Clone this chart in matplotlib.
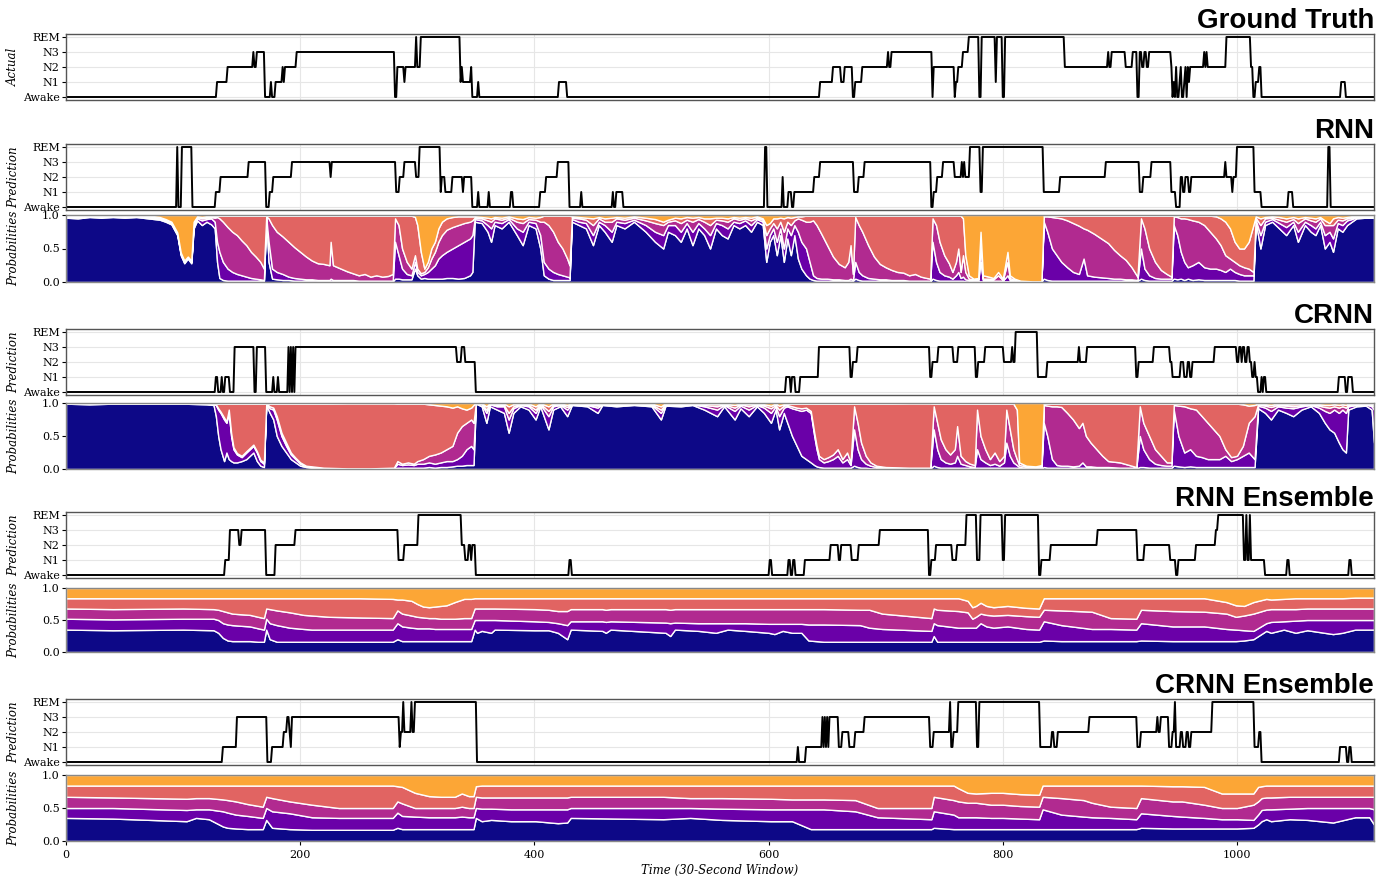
import numpy as np
import matplotlib
matplotlib.use("Agg")
import matplotlib.pyplot as plt

plt.rcParams["font.family"] = "DejaVu Serif"
plt.rcParams["font.size"] = 8

n_epochs = 1118
stage_names = ["Awake", "N1", "N2", "N3", "REM"]
class_colors = ["#0d0887", "#6a00a8", "#b12a90", "#e16462", "#fca636"]

# hypnograms as (first epoch, stage) change points
gt_changes = [(0, 0), (129, 1), (138, 2), (160, 3), (161, 2), (163, 3), (170, 0), (175, 1), (176, 0),
              (179, 1), (185, 2), (186, 1), (187, 2), (197, 3), (281, 0), (283, 2), (289, 1), (290, 2),
              (299, 4), (300, 2), (303, 4), (337, 1), (338, 2), (339, 1), (346, 2), (347, 0), (352, 1),
              (353, 0), (421, 1), (428, 0), (644, 1), (655, 2), (662, 1), (665, 2), (672, 0), (674, 1),
              (680, 2), (702, 3), (703, 2), (705, 3), (740, 0), (741, 2), (759, 0), (760, 1), (762, 2),
              (766, 3), (771, 4), (780, 0), (782, 4), (794, 1), (795, 4), (800, 0), (802, 4), (853, 2),
              (890, 3), (891, 2), (893, 3), (905, 2), (911, 3), (915, 0), (917, 3), (919, 2), (921, 3),
              (923, 2), (925, 3), (944, 2), (945, 0), (946, 1), (947, 0), (948, 2), (949, 0), (951, 1),
              (952, 2), (953, 0), (955, 1), (956, 2), (957, 0), (958, 2), (959, 1), (960, 2), (972, 3),
              (973, 2), (974, 3), (975, 2), (991, 4), (1012, 2), (1014, 0), (1016, 1), (1019, 2),
              (1021, 0), (1089, 1), (1093, 0)]

rnn_changes = [(0, 0), (95, 4), (96, 0), (99, 4), (108, 0), (128, 1), (132, 2), (156, 3), (171, 0),
               (174, 1), (177, 2), (193, 3), (226, 2), (227, 3), (282, 1), (285, 2), (289, 3), (299, 2),
               (302, 4), (320, 1), (321, 2), (324, 1), (330, 2), (339, 1), (340, 2), (347, 0), (352, 1),
               (353, 0), (361, 1), (362, 0), (380, 1), (382, 0), (405, 1), (410, 2), (420, 3), (430, 0),
               (440, 1), (441, 0), (467, 1), (468, 0), (470, 1), (476, 0), (597, 4), (599, 0), (612, 2),
               (613, 0), (617, 1), (620, 0), (622, 1), (639, 2), (644, 3), (673, 1), (677, 2), (682, 3),
               (739, 0), (741, 1), (744, 2), (749, 3), (759, 2), (765, 3), (766, 2), (767, 3), (768, 2),
               (772, 4), (781, 1), (783, 4), (835, 1), (849, 2), (888, 3), (917, 1), (920, 2), (927, 3),
               (944, 1), (948, 0), (952, 2), (954, 1), (956, 2), (959, 1), (961, 2), (990, 3), (991, 2),
               (996, 1), (997, 2), (1000, 4), (1015, 1), (1021, 0), (1044, 1), (1048, 0), (1078, 4),
               (1080, 0)]

crnn_changes = [(0, 0), (128, 1), (130, 0), (133, 1), (134, 0), (136, 1), (140, 0), (144, 3), (161, 0),
                (163, 3), (171, 0), (177, 1), (178, 0), (181, 1), (182, 0), (190, 3), (191, 0), (192, 3),
                (193, 0), (194, 3), (195, 0), (196, 3), (334, 2), (338, 3), (341, 2), (350, 0), (615, 1),
                (619, 0), (620, 1), (623, 0), (627, 1), (643, 3), (670, 1), (672, 2), (676, 3), (738, 1),
                (740, 2), (745, 3), (758, 2), (762, 3), (777, 1), (779, 2), (785, 3), (801, 2), (808, 3),
                (809, 2), (811, 4), (830, 1), (838, 2), (865, 3), (866, 2), (872, 3), (914, 1), (916, 2),
                (929, 3), (943, 2), (945, 1), (952, 2), (955, 1), (958, 2), (960, 1), (962, 2), (981, 3),
                (1000, 2), (1002, 3), (1004, 2), (1005, 3), (1007, 2), (1009, 3), (1011, 2), (1013, 1),
                (1015, 2), (1016, 1), (1018, 0), (1021, 1), (1022, 0), (1023, 1), (1025, 0), (1087, 1),
                (1093, 0), (1095, 1), (1099, 0)]

rnn_ens_changes = [(0, 0), (136, 1), (140, 3), (148, 2), (150, 3), (171, 0), (179, 2), (196, 3),
                   (284, 1), (289, 2), (301, 4), (338, 2), (341, 1), (344, 2), (346, 1), (347, 2),
                   (350, 0), (430, 1), (432, 0), (601, 1), (603, 0), (617, 1), (619, 0), (621, 1),
                   (623, 0), (631, 1), (653, 2), (660, 1), (662, 2), (671, 1), (677, 2), (695, 3),
                   (737, 0), (739, 1), (743, 2), (757, 1), (761, 2), (769, 4), (778, 1), (781, 4),
                   (800, 1), (802, 4), (831, 0), (833, 1), (841, 2), (881, 3), (915, 1), (921, 2),
                   (943, 1), (948, 0), (950, 1), (965, 2), (982, 3), (984, 4), (1006, 1), (1008, 4),
                   (1009, 1), (1011, 4), (1012, 1), (1024, 0), (1043, 1), (1045, 0), (1096, 1), (1098, 0)]

crnn_ens_changes = [(0, 0), (134, 1), (146, 3), (172, 0), (176, 1), (186, 2), (189, 3), (191, 2),
                    (192, 1), (193, 3), (285, 1), (286, 2), (288, 4), (289, 2), (295, 4), (296, 2),
                    (298, 4), (351, 0), (625, 1), (626, 0), (632, 1), (646, 3), (647, 1), (648, 3),
                    (649, 1), (650, 3), (651, 1), (652, 3), (660, 1), (663, 2), (669, 1), (674, 2),
                    (682, 3), (738, 1), (741, 2), (755, 4), (756, 1), (758, 2), (762, 4), (778, 1),
                    (780, 4), (832, 1), (842, 2), (844, 1), (847, 2), (874, 3), (915, 1), (918, 2),
                    (932, 3), (933, 2), (935, 3), (942, 1), (945, 2), (947, 4), (948, 1), (952, 2),
                    (954, 1), (957, 2), (959, 1), (961, 2), (979, 4), (1015, 1), (1019, 2), (1021, 0),
                    (1088, 1), (1094, 0), (1096, 1), (1098, 0)]

# probabilities: (epoch, top of Awake, top of N1, top of N2, top of N3); REM fills to 1
rnn_probs = [
    (0, .96, .97, .98, .99), (10, .95, .96, .98, .99), (20, .97, .98, .99, .995), (30, .96, .97, .98, .99),
    (40, .97, .98, .99, .995), (50, .96, .975, .985, .99), (60, .97, .98, .99, .995), (70, .95, .97, .98, .99),
    (80, .93, .95, .96, .97), (85, .9, .92, .93, .94), (90, .86, .88, .89, .9), (95, .7, .72, .73, .74),
    (98, .4, .42, .43, .44), (101, .28, .3, .31, .32), (104, .35, .36, .37, .38), (107, .28, .3, .31, .32),
    (109, .8, .85, .88, .9), (112, .92, .95, .97, .98), (116, .85, .92, .95, .97), (120, .9, .94, .96, .98),
    (124, .86, .95, .97, .98), (127, .8, .9, .96, .98), (129, .3, .6, .97, .99), (131, .06, .45, .95, .99),
    (134, .03, .3, .9, .99), (138, .02, .2, .82, .99), (142, .02, .15, .75, .99), (146, .02, .12, .7, .99),
    (150, .02, .1, .62, .99), (154, .02, .08, .55, .99), (158, .02, .06, .45, .99), (162, .02, .05, .38, .99),
    (166, .02, .04, .3, .99), (169, .02, .03, .2, .99), (171, .95, .97, .98, .99), (173, .3, .6, .95, .99),
    (176, .05, .2, .85, .99), (180, .04, .15, .75, .99), (185, .03, .12, .68, .99), (190, .03, .08, .6, .99),
    (195, .02, .06, .52, .99), (200, .02, .05, .45, .99), (205, .02, .04, .38, .99), (210, .02, .04, .32, .99),
    (215, .02, .03, .28, .99), (220, .02, .03, .27, .99), (225, .02, .03, .25, .99), (226, .02, .05, .6, .99),
    (228, .02, .03, .25, .99), (232, .02, .03, .22, .99), (236, .02, .03, .19, .99), (240, .02, .03, .16, .99),
    (245, .02, .03, .13, .99), (250, .01, .02, .1, .99), (255, .01, .02, .12, .99), (260, .01, .02, .08, .99),
    (265, .01, .02, .1, .99), (270, .01, .02, .08, .99), (275, .01, .02, .09, .99), (279, .01, .02, .12, .99),
    (281, .05, .6, .95, .99), (284, .05, .4, .85, .99), (287, .04, .2, .5, .99), (291, .04, .12, .3, .99),
    (295, .04, .1, .2, .99), (298, .2, .3, .4, .97), (300, .1, .15, .2, .85), (303, .05, .1, .13, .45),
    (306, .06, .12, .15, .2), (309, .05, .15, .22, .3), (312, .05, .2, .35, .5), (315, .05, .25, .45, .6),
    (318, .05, .35, .6, .8), (321, .05, .4, .7, .9), (325, .06, .45, .78, .95), (330, .06, .5, .82, .97),
    (335, .05, .55, .85, .98), (340, .06, .6, .88, .98), (345, .1, .65, .9, .98), (347, .15, .7, .92, .98),
    (349, .9, .94, .96, .98), (355, .88, .92, .95, .97), (360, .75, .85, .92, .96), (363, .6, .8, .9, .95),
    (366, .85, .9, .95, .97), (372, .8, .88, .93, .96), (378, .9, .94, .96, .98), (385, .7, .8, .9, .95),
    (390, .55, .75, .88, .94), (395, .85, .9, .94, .97), (401, .8, .88, .93, .96), (405, .5, .7, .9, .97),
    (408, .1, .3, .9, .99), (412, .05, .2, .85, .99), (416, .03, .15, .75, .99), (420, .03, .12, .6, .99),
    (424, .03, .1, .5, .99), (428, .03, .08, .35, .99), (430, .03, .07, .25, .99), (432, .9, .94, .96, .98),
    (438, .85, .9, .95, .97), (444, .8, .88, .93, .96), (450, .55, .7, .85, .95), (455, .85, .9, .95, .97),
    (460, .75, .85, .9, .95), (466, .6, .75, .9, .96), (470, .85, .9, .95, .97), (477, .8, .88, .93, .96),
    (485, .9, .93, .96, .98), (495, .75, .85, .92, .96), (503, .6, .75, .88, .94), (510, .5, .7, .85, .9),
    (514, .75, .85, .9, .93), (520, .7, .85, .92, .96), (525, .6, .75, .88, .95), (530, .8, .88, .93, .97),
    (535, .55, .75, .9, .96), (540, .8, .88, .94, .97), (545, .7, .8, .9, .95), (550, .5, .7, .85, .95),
    (555, .8, .88, .93, .96), (560, .7, .85, .92, .96), (565, .65, .8, .9, .95), (570, .85, .9, .95, .97),
    (575, .8, .88, .93, .96), (580, .85, .92, .95, .97), (585, .75, .85, .92, .96), (590, .9, .94, .96, .98),
    (595, .85, .9, .93, .95), (598, .3, .5, .7, .85), (601, .6, .7, .8, .88), (604, .7, .8, .88, .95),
    (607, .4, .6, .8, .95), (610, .7, .8, .9, .96), (613, .3, .5, .75, .95), (616, .65, .8, .9, .97),
    (619, .4, .7, .85, .96), (622, .7, .85, .92, .97), (625, .35, .75, .95, .98), (628, .2, .6, .93, .98),
    (632, .1, .5, .9, .99), (635, .05, .3, .9, .99), (638, .03, .1, .92, .99), (641, .02, .06, .85, .99),
    (645, .02, .05, .72, .99), (650, .02, .05, .55, .99), (655, .02, .04, .38, .99), (660, .02, .04, .27, .99),
    (665, .02, .03, .22, .99), (668, .02, .03, .3, .99), (670, .02, .05, .55, .99), (672, .02, .03, .12, .99),
    (674, .05, .3, .97, .99), (677, .03, .15, .85, .99), (680, .02, .1, .75, .99), (685, .02, .06, .55, .99),
    (690, .02, .05, .38, .99), (695, .02, .04, .27, .99), (700, .02, .04, .22, .99), (705, .02, .03, .18, .99),
    (710, .02, .03, .15, .99), (715, .01, .03, .14, .99), (720, .01, .02, .1, .99), (725, .01, .02, .12, .99),
    (730, .01, .02, .08, .99), (735, .01, .02, .06, .99), (738, .01, .02, .05, .99), (740, .05, .6, .95, .99),
    (743, .03, .3, .85, .99), (746, .02, .15, .6, .99), (750, .02, .1, .4, .99), (754, .02, .08, .28, .99),
    (757, .02, .05, .15, .99), (760, .02, .1, .3, .99), (762, .02, .15, .5, .99), (764, .02, .06, .15, .99),
    (766, .02, .08, .4, .95), (768, .01, .04, .15, .4), (771, .01, .03, .05, .1), (775, .01, .02, .04, .05),
    (779, .01, .02, .04, .06), (781, .01, .3, .6, .75), (783, .01, .03, .05, .1), (788, .01, .03, .05, .08),
    (792, .01, .02, .04, .06), (796, .01, .02, .1, .15), (800, .01, .02, .03, .05), (804, .01, .1, .3, .45),
    (806, .01, .03, .06, .1), (810, .01, .02, .03, .05), (815, .01, .01, .02, .02), (825, .01, .01, .01, .01),
    (833, .01, .01, .01, .01), (835, .05, .9, .98, .99), (838, .03, .75, .98, .99), (842, .02, .5, .97, .99),
    (846, .02, .4, .96, .99), (850, .02, .3, .95, .99), (855, .02, .22, .92, .99), (860, .02, .15, .88, .99),
    (865, .02, .12, .84, .99), (869, .02, .35, .8, .99), (872, .02, .1, .78, .99), (878, .02, .08, .72, .99),
    (884, .02, .07, .65, .99), (890, .02, .06, .58, .99), (895, .02, .05, .48, .99), (900, .02, .05, .4, .99),
    (905, .02, .04, .33, .99), (910, .02, .04, .22, .99), (915, .02, .03, .08, .99), (918, .05, .5, .95, .99),
    (921, .03, .2, .8, .99), (925, .02, .1, .5, .99), (930, .02, .06, .3, .99), (935, .02, .05, .18, .99),
    (940, .02, .05, .12, .99), (944, .02, .05, .08, .99), (946, .05, .85, .98, .99), (949, .04, .7, .97, .99),
    (952, .05, .45, .95, .99), (955, .03, .3, .95, .99), (958, .05, .22, .94, .99), (962, .03, .25, .92, .99),
    (967, .04, .3, .9, .99), (972, .03, .22, .85, .99), (977, .03, .2, .75, .99), (982, .03, .2, .65, .98),
    (986, .03, .18, .55, .95), (990, .03, .15, .4, .9), (994, .03, .2, .35, .8), (998, .03, .15, .3, .6),
    (1002, .02, .12, .25, .5), (1006, .02, .1, .22, .5), (1010, .02, .1, .2, .6), (1014, .02, .1, .15, .85),
    (1016, .9, .93, .96, .98), (1020, .5, .7, .85, .95), (1024, .85, .9, .95, .97), (1030, .9, .94, .96, .98),
    (1036, .8, .88, .93, .97), (1042, .7, .82, .9, .95), (1048, .85, .9, .94, .97), (1052, .6, .75, .88, .95),
    (1058, .85, .9, .95, .97), (1063, .75, .85, .92, .96), (1067, .7, .8, .9, .95), (1071, .85, .9, .95, .97),
    (1075, .5, .7, .85, .92), (1079, .6, .75, .85, .88), (1082, .45, .65, .85, .95), (1086, .8, .88, .93, .97),
    (1090, .75, .85, .92, .96), (1094, .85, .92, .95, .97), (1098, .9, .94, .96, .98), (1102, .95, .97, .98, .99),
    (1110, .96, .97, .98, .99), (1117, .96, .97, .98, .99)]

crnn_probs = [
    (0, .99, .995, .997, .998), (20, .98, .99, .995, .998), (40, .99, .995, .997, .998), (60, .99, .995, .997, .998),
    (80, .99, .995, .997, .998), (100, .99, .995, .997, .998), (120, .98, .99, .995, .998), (126, .97, .99, .995, .998),
    (128, .8, .97, .98, .99), (130, .5, .9, .92, .99), (132, .3, .85, .87, .99), (135, .12, .75, .78, .99),
    (137, .25, .7, .72, .99), (139, .15, .85, .9, .99), (141, .12, .5, .55, .99), (143, .1, .3, .33, .99),
    (146, .1, .22, .24, .99), (150, .12, .18, .2, .99), (154, .15, .25, .27, .99), (157, .2, .3, .32, .99),
    (160, .25, .35, .37, .99), (163, .12, .25, .27, .99), (166, .05, .12, .14, .99), (169, .03, .08, .1, .99),
    (171, .97, .98, .99, .995), (174, .85, .92, .95, .99), (177, .75, .9, .93, .99), (180, .5, .75, .8, .99),
    (184, .35, .5, .55, .99), (188, .25, .35, .4, .99), (192, .15, .22, .25, .99), (196, .1, .15, .17, .99),
    (200, .05, .08, .1, .99), (205, .03, .04, .05, .99), (210, .02, .03, .04, .99), (220, .01, .01, .02, .99),
    (240, .005, .008, .01, .995), (260, .005, .008, .01, .995), (280, .005, .01, .02, .995), (283, .02, .08, .12, .99),
    (287, .02, .06, .08, .99), (292, .02, .07, .1, .99), (297, .02, .06, .08, .99), (300, .02, .08, .12, .99),
    (305, .02, .08, .15, .99), (310, .03, .1, .2, .98), (315, .02, .08, .22, .97), (320, .03, .1, .25, .96),
    (325, .03, .12, .3, .95), (330, .04, .12, .35, .93), (334, .05, .15, .55, .95), (338, .05, .2, .65, .92),
    (342, .06, .3, .7, .9), (346, .06, .35, .75, .93), (348, .06, .3, .7, .97), (350, .99, .995, .997, .998),
    (355, .95, .98, .99, .995), (359, .7, .85, .9, .95), (362, .95, .98, .99, .995), (368, .9, .95, .97, .99),
    (374, .85, .95, .97, .99), (378, .55, .75, .85, .95), (382, .85, .92, .95, .98), (388, .95, .97, .98, .99),
    (395, .9, .95, .97, .99), (401, .75, .85, .9, .95), (405, .95, .98, .99, .995), (412, .6, .8, .88, .95),
    (416, .9, .95, .97, .99), (422, .95, .97, .98, .99), (428, .8, .9, .94, .97), (432, .97, .98, .99, .995),
    (445, .95, .97, .98, .99), (454, .85, .93, .96, .98), (458, .97, .98, .99, .995), (470, .95, .97, .98, .99),
    (485, .97, .98, .99, .995), (500, .95, .97, .98, .99), (508, .75, .85, .9, .95), (512, .96, .98, .99, .995),
    (525, .95, .97, .98, .99), (535, .97, .98, .99, .995), (545, .9, .95, .97, .99), (556, .8, .9, .95, .98),
    (562, .95, .97, .98, .99), (571, .75, .88, .93, .97), (576, .92, .96, .98, .99), (583, .8, .9, .95, .98),
    (590, .95, .97, .98, .99), (596, .85, .93, .96, .98), (602, .7, .85, .92, .96), (606, .9, .95, .97, .99),
    (609, .6, .8, .9, .96), (613, .85, .93, .96, .98), (616, .7, .95, .97, .99), (620, .5, .92, .95, .99),
    (624, .35, .9, .93, .99), (628, .2, .88, .92, .99), (632, .15, .9, .93, .99), (636, .1, .85, .88, .99),
    (639, .06, .5, .55, .99), (641, .04, .3, .35, .99), (643, .03, .15, .2, .99), (647, .02, .1, .15, .99),
    (651, .02, .12, .18, .99), (655, .02, .15, .22, .99), (659, .02, .2, .3, .99), (663, .02, .1, .15, .99),
    (667, .02, .15, .25, .99), (670, .02, .06, .1, .99), (673, .05, .6, .95, .99), (676, .03, .3, .7, .99),
    (679, .02, .15, .4, .99), (683, .02, .08, .2, .99), (687, .01, .05, .1, .99), (692, .01, .03, .05, .99),
    (700, .01, .02, .03, .99), (720, .005, .01, .02, .995), (738, .01, .015, .02, .995), (741, .05, .6, .95, .99),
    (744, .03, .3, .7, .99), (747, .02, .15, .45, .99), (751, .02, .1, .3, .99), (755, .02, .08, .22, .99),
    (759, .02, .1, .3, .99), (761, .02, .2, .65, .99), (764, .02, .08, .2, .99), (768, .02, .06, .12, .99),
    (772, .02, .04, .08, .99), (776, .02, .03, .06, .99), (778, .02, .3, .9, .99), (781, .02, .15, .5, .99),
    (785, .02, .1, .3, .99), (789, .02, .06, .15, .99), (793, .02, .08, .25, .99), (797, .02, .05, .12, .99),
    (801, .02, .1, .2, .99), (803, .02, .4, .9, .99), (806, .02, .2, .6, .99), (809, .02, .1, .3, .99),
    (812, .02, .06, .15, .9), (814, .01, .03, .06, .1), (820, .01, .02, .04, .05), (828, .01, .02, .03, .04),
    (833, .01, .02, .04, .06), (835, .03, .7, .97, .99), (838, .02, .5, .96, .99), (842, .02, .15, .95, .99),
    (846, .02, .06, .95, .99), (850, .02, .05, .94, .99), (855, .02, .05, .85, .99), (860, .02, .04, .75, .99),
    (865, .02, .05, .62, .99), (868, .02, .1, .7, .99), (871, .02, .04, .5, .99), (875, .02, .04, .4, .99),
    (880, .02, .03, .3, .99), (885, .02, .03, .2, .99), (890, .02, .03, .12, .99), (900, .01, .02, .1, .99),
    (910, .01, .02, .05, .99), (914, .01, .02, .03, .99), (917, .03, .5, .95, .99), (920, .03, .3, .7, .99),
    (925, .02, .15, .5, .99), (930, .02, .08, .3, .99), (935, .02, .06, .2, .99), (940, .02, .05, .1, .99),
    (944, .02, .05, .1, .99), (946, .05, .9, .97, .99), (950, .04, .5, .96, .99), (955, .03, .25, .95, .99),
    (960, .04, .3, .92, .99), (965, .03, .2, .9, .99), (970, .03, .18, .8, .99), (975, .03, .15, .7, .99),
    (980, .03, .15, .6, .99), (985, .03, .15, .5, .99), (990, .03, .2, .3, .99), (995, .03, .12, .18, .99),
    (1000, .03, .15, .2, .99), (1005, .03, .2, .35, .98), (1010, .03, .25, .7, .96), (1015, .03, .15, .8, .97),
    (1018, .92, .96, .98, .99), (1024, .85, .93, .96, .98), (1029, .75, .88, .94, .97), (1035, .9, .95, .97, .99),
    (1042, .85, .93, .96, .98), (1048, .8, .92, .95, .98), (1055, .9, .95, .97, .99), (1063, .95, .97, .98, .99),
    (1070, .85, .93, .96, .98), (1075, .7, .88, .94, .97), (1079, .6, .85, .93, .97), (1083, .55, .9, .95, .98),
    (1087, .4, .85, .93, .97), (1090, .3, .9, .95, .98), (1093, .25, .85, .93, .97), (1095, .9, .95, .97, .99),
    (1102, .95, .97, .98, .99), (1110, .96, .98, .99, .995), (1115, .9, .95, .97, .99), (1117, .4, .9, .95, .98)]

rnn_ens_probs = [
    (0, .35, .52, .68, .84), (40, .34, .51, .67, .84), (100, .35, .52, .68, .84), (126, .34, .52, .67, .84),
    (130, .3, .5, .66, .84), (134, .22, .45, .64, .84), (138, .18, .43, .62, .84), (142, .17, .42, .6, .84),
    (149, .17, .41, .59, .84), (157, .17, .4, .58, .84), (164, .16, .37, .55, .84), (169, .16, .35, .53, .84),
    (171, .35, .52, .68, .84), (174, .2, .45, .67, .84), (180, .16, .42, .65, .84), (191, .16, .38, .62, .84),
    (203, .16, .36, .58, .84), (210, .16, .35, .57, .84), (225, .16, .35, .55, .84), (250, .16, .35, .54, .84),
    (279, .16, .35, .53, .83), (283, .2, .45, .65, .82), (287, .17, .4, .6, .82), (295, .17, .38, .57, .8),
    (300, .17, .37, .55, .75), (305, .17, .37, .54, .71), (310, .17, .37, .53, .7), (315, .17, .36, .53, .71),
    (320, .17, .36, .52, .72), (325, .17, .36, .52, .73), (332, .17, .36, .52, .78), (340, .17, .36, .53, .83),
    (346, .17, .36, .53, .83), (349, .35, .5, .68, .84), (351, .3, .5, .68, .84), (355, .33, .5, .68, .84),
    (363, .3, .5, .68, .84), (366, .35, .5, .68, .84), (400, .34, .48, .67, .84), (412, .34, .47, .66, .84),
    (420, .3, .45, .64, .84), (428, .2, .42, .64, .84), (431, .35, .48, .67, .84), (458, .33, .48, .67, .84),
    (461, .3, .47, .66, .84), (465, .35, .48, .67, .84), (512, .3, .46, .67, .84), (516, .25, .45, .66, .84),
    (520, .35, .46, .67, .84), (540, .33, .45, .67, .84), (555, .3, .45, .67, .84), (565, .35, .45, .67, .84),
    (580, .33, .45, .67, .84), (600, .3, .44, .67, .84), (605, .28, .44, .67, .84), (612, .33, .44, .67, .84),
    (620, .3, .44, .67, .84), (628, .3, .44, .67, .84), (634, .18, .43, .67, .84), (647, .16, .43, .67, .84),
    (678, .16, .42, .66, .84), (686, .16, .38, .66, .84), (697, .16, .36, .6, .84), (739, .16, .33, .53, .84),
    (741, .25, .45, .68, .84), (744, .16, .42, .66, .84), (762, .16, .38, .64, .84), (770, .16, .38, .62, .8),
    (774, .16, .38, .52, .7), (777, .16, .38, .55, .72), (781, .16, .45, .6, .77), (786, .16, .4, .58, .72),
    (792, .16, .38, .57, .7), (804, .16, .4, .58, .72), (820, .16, .36, .56, .69), (831, .16, .35, .55, .68),
    (835, .18, .48, .66, .84), (850, .17, .42, .65, .84), (876, .17, .36, .63, .84), (892, .17, .36, .53, .84),
    (914, .17, .35, .52, .84), (918, .18, .45, .66, .84), (945, .17, .4, .64, .84), (972, .17, .4, .63, .84),
    (991, .17, .36, .6, .78), (999, .17, .35, .55, .73), (1006, .18, .34, .57, .72), (1014, .2, .33, .6, .78),
    (1025, .33, .45, .66, .83), (1029, .3, .47, .67, .82), (1040, .35, .48, .67, .83), (1050, .3, .49, .67, .84),
    (1060, .34, .5, .68, .84), (1082, .28, .5, .68, .84), (1090, .3, .5, .68, .84), (1101, .35, .5, .68, .85),
    (1117, .35, .5, .68, .85)]

crnn_ens_probs = [
    (0, .35, .5, .67, .84), (40, .34, .5, .66, .84), (103, .3, .47, .64, .84), (111, .35, .48, .65, .84),
    (122, .33, .48, .65, .84), (134, .22, .45, .63, .84), (138, .2, .43, .62, .84), (145, .19, .4, .6, .84),
    (155, .18, .38, .56, .84), (168, .18, .35, .52, .84), (171, .32, .5, .67, .84), (176, .2, .45, .65, .84),
    (191, .18, .42, .6, .84), (210, .17, .36, .55, .84), (233, .17, .35, .5, .84), (279, .17, .35, .5, .84),
    (283, .2, .43, .6, .83), (287, .18, .38, .57, .82), (298, .18, .37, .5, .73), (310, .18, .36, .5, .68),
    (320, .18, .36, .5, .67), (332, .18, .36, .5, .67), (338, .18, .37, .52, .72), (344, .18, .36, .5, .68),
    (348, .18, .36, .5, .68), (350, .35, .5, .67, .83), (355, .3, .49, .66, .84), (363, .32, .49, .66, .84),
    (380, .3, .48, .66, .84), (401, .3, .48, .66, .84), (420, .27, .48, .66, .84), (428, .28, .48, .66, .84),
    (431, .35, .5, .67, .84), (470, .34, .5, .67, .84), (510, .33, .5, .67, .84), (533, .35, .5, .65, .84),
    (560, .32, .49, .65, .84), (602, .3, .48, .64, .84), (620, .3, .48, .63, .84), (636, .18, .48, .63, .84),
    (647, .18, .48, .63, .84), (674, .18, .45, .62, .84), (693, .18, .36, .5, .84), (739, .18, .33, .5, .84),
    (741, .2, .45, .67, .84), (758, .18, .4, .62, .84), (762, .18, .36, .6, .8), (770, .18, .36, .58, .73),
    (777, .18, .36, .58, .72), (790, .18, .35, .55, .73), (800, .18, .35, .55, .73), (815, .18, .34, .53, .71),
    (831, .18, .33, .52, .7), (834, .18, .48, .67, .84), (850, .18, .4, .65, .84), (869, .18, .37, .62, .84),
    (876, .18, .36, .58, .84), (892, .18, .35, .52, .84), (914, .18, .33, .5, .84), (918, .2, .42, .65, .84),
    (945, .19, .38, .6, .83), (953, .19, .37, .6, .83), (972, .19, .35, .55, .82), (987, .19, .33, .5, .72),
    (1000, .19, .33, .5, .72), (1014, .2, .32, .55, .72), (1018, .25, .4, .6, .82), (1021, .3, .47, .65, .83),
    (1025, .33, .48, .66, .84), (1029, .3, .48, .66, .84), (1045, .33, .49, .67, .84), (1060, .32, .5, .67, .84),
    (1082, .28, .5, .67, .84), (1101, .36, .5, .67, .84), (1113, .36, .5, .67, .84), (1117, .25, .48, .67, .84)]

panels = [("Ground Truth", gt_changes, None),
          ("RNN", rnn_changes, rnn_probs),
          ("CRNN", crnn_changes, crnn_probs),
          ("RNN Ensemble", rnn_ens_changes, rnn_ens_probs),
          ("CRNN Ensemble", crnn_ens_changes, crnn_ens_probs)]

# axes boxes in pixels (top, bottom)
hyp_boxes = [(34, 100), (144, 210), (329, 395), (512, 578), (699, 765)]
prob_boxes = [None, (215, 282), (403, 469), (588, 652), (775, 841)]

W, H = 1390, 877
fig = plt.figure(figsize=(W / 100, H / 100), dpi=100)
x0, x1 = 66, 1374


def add_ax(top, bottom):
    return fig.add_axes([x0 / W, 1 - bottom / H, (x1 - x0) / W, (bottom - top) / H])


def expand(changes):
    stages = np.zeros(n_epochs)
    for i, (start, st) in enumerate(changes):
        end = changes[i + 1][0] if i + 1 < len(changes) else n_epochs
        stages[start:end] = st
    return stages


def style(ax, spine="#555555"):
    for s in ax.spines.values():
        s.set_color(spine)
        s.set_linewidth(1.0)
    ax.set_xlim(0, n_epochs - 1)
    ax.set_xticks(range(0, 1001, 200))
    ax.tick_params(axis="x", bottom=False, labelbottom=False)
    ax.tick_params(axis="y", length=3, width=0.8, pad=1.5, labelsize=8)


epochs = np.arange(n_epochs)
last_ax = None
for (name, changes, probs), hb, pb in zip(panels, hyp_boxes, prob_boxes):
    ax = add_ax(*hb)
    ax.plot(epochs, expand(changes), color="black", lw=1.4)
    ax.set_ylim(-0.2, 4.2)
    ax.set_yticks(range(5))
    ax.set_yticklabels(stage_names)
    ax.grid(True, color="#e6e6e6", lw=0.8)
    ax.set_axisbelow(True)
    style(ax)
    ax.set_ylabel("Actual" if probs is None else "Prediction", style="italic", fontsize=8.5)
    ax.yaxis.set_label_coords(-0.035, 0.5)
    ax.set_title(name, loc="right", fontsize=20, fontweight="bold",
                 family="Liberation Sans", pad=2)
    last_ax = ax
    if probs is None:
        continue
    pa = add_ax(*pb)
    arr = np.array(probs)
    t = arr[:, 0]
    cum = np.column_stack([np.zeros(len(t)), arr[:, 1:], np.ones(len(t))])
    p = np.diff(cum, axis=1).T
    pa.stackplot(t, p, colors=class_colors, edgecolor="white", linewidth=1.0)
    pa.set_ylim(0, 1)
    pa.set_yticks([0, 0.5, 1.0])
    pa.set_yticklabels(["0.0", "0.5", "1.0"])
    style(pa, spine="#888888")
    pa.set_ylabel("Probabilities", style="italic", fontsize=8.5)
    pa.yaxis.set_label_coords(-0.035, 0.5)
    last_ax = pa

last_ax.tick_params(axis="x", bottom=True, labelbottom=True, length=3, labelsize=8)
last_ax.set_xlabel("Time (30-Second Window)", style="italic", fontsize=8.5, labelpad=3)

fig.savefig("out.png", dpi=100)
